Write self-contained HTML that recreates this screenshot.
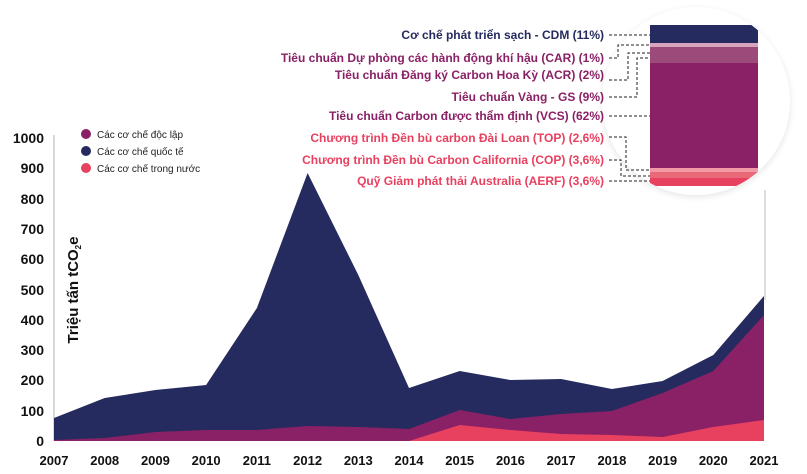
<!DOCTYPE html>
<html><head><meta charset="utf-8"><style>
body{margin:0;background:#fff;}
svg{display:block;font-family:"Liberation Sans","DejaVu Sans",sans-serif;}
</style></head><body>
<svg width="807" height="474" viewBox="0 0 807 474">
<defs><clipPath id="c"><circle cx="696" cy="101" r="94"/></clipPath>
<filter id="s" x="-20%" y="-20%" width="140%" height="140%"><feGaussianBlur stdDeviation="3"/></filter></defs>
<line x1="54" y1="135" x2="54" y2="441" stroke="#ccc" stroke-width="1.5"/>
<line x1="765" y1="190" x2="765" y2="300" stroke="#bbb" stroke-width="1"/>
<polygon fill="#252b5e" points="54,441 54,418 104.7,398 155.4,390 206.1,385 256.9,308 307.6,173 358.3,275 409,388 459.7,371 510.4,380 561.1,379 611.9,389 662.6,381 713.3,355 764,296 764,441"/>
<polygon fill="#8a2065" points="54,441 54,440 104.7,438 155.4,432 206.1,430 256.9,430 307.6,426 358.3,427 409,429 459.7,410 510.4,419 561.1,414 611.9,411 662.6,393 713.3,371 764,315 764,441"/>
<polygon fill="#e8405f" points="409,441 459.7,425 510.4,430 561.1,434 611.9,435 662.6,437 713.3,427 764,420 764,441"/>
<g font-weight="bold" font-size="14" fill="#111" text-anchor="end">
<text x="44" y="143">1000</text><text x="44" y="173">900</text><text x="44" y="204">800</text><text x="44" y="234">700</text><text x="44" y="264">600</text><text x="44" y="295">500</text><text x="44" y="325">400</text><text x="44" y="355">300</text><text x="44" y="385">200</text><text x="44" y="416">100</text><text x="44" y="446">0</text>
</g>
<g font-weight="bold" font-size="13" fill="#111" text-anchor="middle">
<text x="54" y="465">2007</text><text x="104.7" y="465">2008</text><text x="155.4" y="465">2009</text><text x="206.1" y="465">2010</text><text x="256.9" y="465">2011</text><text x="307.6" y="465">2012</text><text x="358.3" y="465">2013</text><text x="409" y="465">2014</text><text x="459.7" y="465">2015</text><text x="510.4" y="465">2016</text><text x="561.1" y="465">2017</text><text x="611.9" y="465">2018</text><text x="662.6" y="465">2019</text><text x="713.3" y="465">2020</text><text x="764" y="465">2021</text>
</g>
<text transform="translate(78,290) rotate(-90)" text-anchor="middle" font-weight="bold" font-size="15" fill="#111">Triệu tấn tCO<tspan font-size="8" dy="3">2</tspan><tspan dy="-3">e</tspan></text>
<g font-size="10" fill="#222">
<circle cx="86" cy="134" r="5" fill="#8a2065"/><text x="97" y="138">Các cơ chế độc lập</text>
<circle cx="86" cy="151" r="5" fill="#252b5e"/><text x="97" y="155">Các cơ chế quốc tế</text>
<circle cx="86" cy="168" r="5" fill="#e8405f"/><text x="97" y="172">Các cơ chế trong nước</text>
</g>
<circle cx="696" cy="103" r="95" fill="#000" opacity="0.08" filter="url(#s)"/>
<circle cx="696" cy="101" r="94" fill="#fff"/>
<g clip-path="url(#c)">
<rect x="650" y="25" width="108" height="18" fill="#252b5e"/>
<rect x="650" y="43" width="108" height="4" fill="#d7a4bd"/>
<rect x="650" y="47" width="108" height="16" fill="#9c4a7a"/>
<rect x="650" y="63" width="108" height="105" fill="#8a2065"/>
<rect x="650" y="168" width="108" height="4" fill="#f19aa6"/>
<rect x="650" y="172" width="108" height="6" fill="#e86a78"/>
<rect x="650" y="178" width="108" height="8" fill="#e8405f"/>
</g>
<g font-weight="bold" font-size="12" text-anchor="end">
<text x="604" y="39" fill="#252b5e">Cơ chế phát triển sạch - CDM (11%)</text>
<text x="604" y="62" fill="#8a2065">Tiêu chuẩn Dự phòng các hành động khí hậu (CAR) (1%)</text>
<text x="604" y="79" fill="#8a2065">Tiêu chuẩn Đăng ký Carbon Hoa Kỳ (ACR) (2%)</text>
<text x="604" y="101" fill="#8a2065">Tiêu chuẩn Vàng - GS (9%)</text>
<text x="604" y="120" fill="#8a2065">Tiêu chuẩn Carbon được thẩm định (VCS) (62%)</text>
<text x="604" y="142" fill="#e8405f">Chương trình Đền bù carbon Đài Loan (TOP) (2,6%)</text>
<text x="604" y="164" fill="#e8405f">Chương trình Đền bù Carbon California (COP) (3,6%)</text>
<text x="604" y="185" fill="#e8405f">Quỹ Giảm phát thải Australia (AERF) (3,6%)</text>
</g>
<g stroke="#222" stroke-width="1" stroke-dasharray="3,2" fill="none">
<path d="M609 35H650"/>
<path d="M609 58H618V45H650"/>
<path d="M609 80H628V53H650"/>
<path d="M609 97H637V58H650"/>
<path d="M609 116H650"/>
<path d="M609 137H626V170H650"/>
<path d="M609 160H621V176H650"/>
<path d="M609 181H650"/>
</g>
</svg>
</body></html>
